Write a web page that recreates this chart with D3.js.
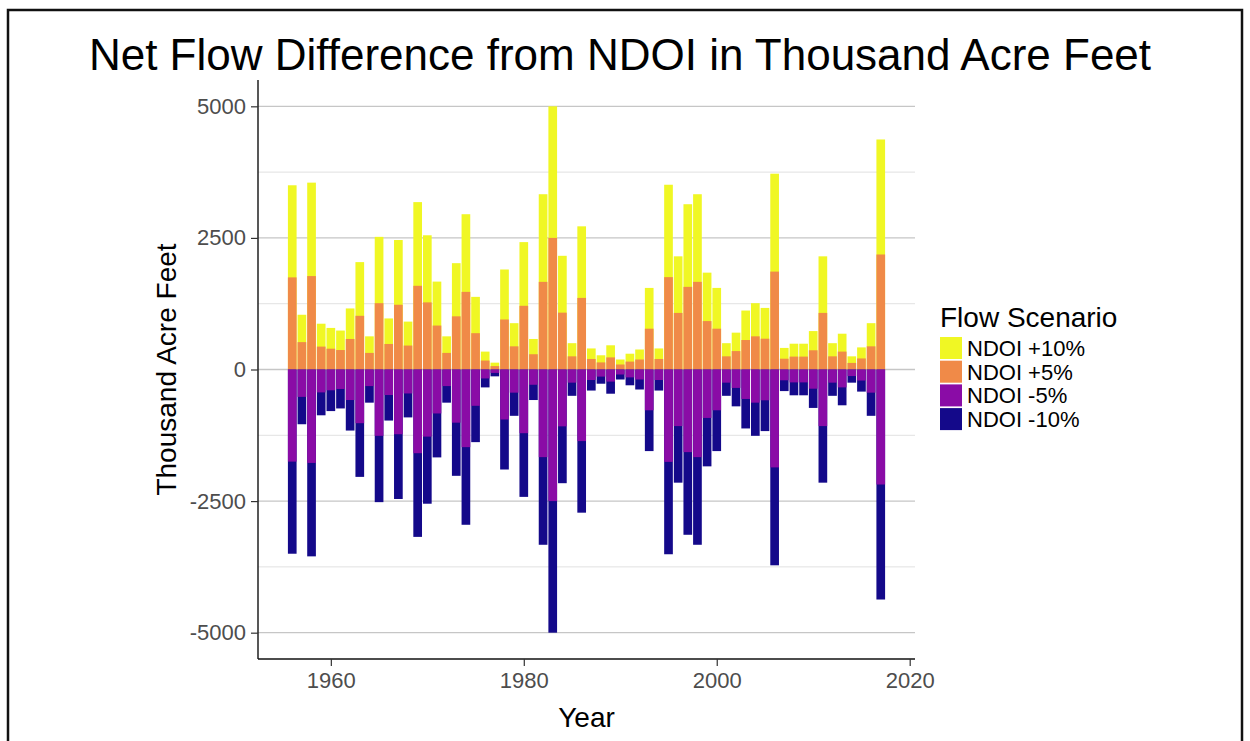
<!DOCTYPE html>
<html>
<head>
<meta charset="utf-8">
<script src="https://cdn.jsdelivr.net/npm/d3@7"></script>
<style>
  body { margin: 0; background: #fff; }
  svg { display: block; font-family: "Liberation Sans", Arial, sans-serif; }
</style>
</head>
<body>
<svg id="chart" width="1250" height="741"></svg>
<script>
// Values (thousand acre feet)
var years = d3.range(1956, 2018);

var plus10 = [3500, 1040, 3550, 870, 790, 740, 1160, 2040, 630, 2520,
  970, 2460, 910, 3180, 2550, 1670, 630, 2020, 2950, 1380,
  340, 130, 1900, 880, 2420, 580, 3330, 5000, 2160, 500,
  2720, 400, 270, 460, 190, 300, 380, 1550, 400, 3510,
  2150, 3140, 3330, 1840, 1550, 500, 700, 1120, 1260, 1170,
  3720, 410, 490, 490, 730, 2150, 500, 680, 250, 420,
  880, 4370];

var plus5 = [1750, 520, 1775, 435, 395, 370, 580, 1020, 315, 1260,
  485, 1230, 455, 1590, 1275, 835, 315, 1010, 1475, 690,
  170, 65, 950, 440, 1210, 290, 1665, 2500, 1080, 250,
  1360, 200, 135, 230, 95, 150, 190, 775, 200, 1755,
  1075, 1570, 1665, 920, 775, 250, 350, 560, 630, 585,
  1860, 205, 245, 245, 365, 1075, 250, 340, 125, 210,
  440, 2185];

var minus5 = [-1750, -520, -1775, -435, -395, -370, -580, -1020, -315, -1260,
  -485, -1230, -455, -1590, -1275, -835, -315, -1010, -1475, -690,
  -170, -65, -950, -440, -1210, -290, -1665, -2500, -1080, -250,
  -1360, -200, -135, -230, -95, -150, -190, -775, -200, -1755,
  -1075, -1570, -1665, -920, -775, -250, -350, -560, -630, -585,
  -1860, -205, -245, -245, -365, -1075, -250, -340, -125, -210,
  -440, -2185];

var minus10 = [-3500, -1040, -3550, -870, -790, -740, -1160, -2040, -630, -2520,
  -970, -2460, -910, -3180, -2550, -1670, -630, -2020, -2950, -1380,
  -340, -130, -1900, -880, -2420, -580, -3330, -5000, -2160, -500,
  -2720, -400, -270, -460, -190, -300, -380, -1550, -400, -3510,
  -2150, -3140, -3330, -1840, -1550, -500, -700, -1120, -1260, -1170,
  -3720, -410, -490, -490, -730, -2150, -500, -680, -250, -420,
  -880, -4370];

var yTicks = [-5000, -2500, 0, 2500, 5000];
var yMinor = [-3750, -1250, 1250, 3750];
var xTicks = [1960, 1980, 2000, 2020];

var scenarios = ["NDOI +10%", "NDOI +5%", "NDOI -5%", "NDOI -10%"];
var colors = ["#f0f724", "#f08a48", "#8a0ca6", "#14098a"];

var svg = d3.select("#chart");

// panel box (window.top is taken, so own names)
var panelL = 258, panelR = 915, panelT = 80, panelB = 659;

var x = d3.scaleLinear().domain([1952.45, 2020.55]).range([panelL, panelR]);
var y = d3.scaleLinear().domain([-5500, 5500]).range([panelB, panelT]);
var barW = (x(1) - x(0)) * 0.9;

// outer frame
svg.append("rect")
  .attr("x", 8).attr("y", 10).attr("width", 1234).attr("height", 745)
  .attr("fill", "none").attr("stroke", "#111").attr("stroke-width", 2.5);

// gridlines
svg.append("g").selectAll("line").data(yMinor).join("line")
  .attr("x1", panelL).attr("x2", panelR)
  .attr("y1", d => y(d)).attr("y2", d => y(d))
  .attr("stroke", "#e1e1e1").attr("stroke-width", 1);
svg.append("g").selectAll("line").data(yTicks).join("line")
  .attr("x1", panelL).attr("x2", panelR)
  .attr("y1", d => y(d)).attr("y2", d => y(d))
  .attr("stroke", "#c6c6c6").attr("stroke-width", 1.3);

// bars: bigger change drawn first, the 5% one over it
var series = [plus10, plus5, minus10, minus5];
var seriesColor = [colors[0], colors[1], colors[3], colors[2]];
series.forEach(function(vals, s) {
  svg.append("g").selectAll("rect").data(vals).join("rect")
    .attr("x", (d, i) => x(years[i]) - barW / 2)
    .attr("width", barW)
    .attr("y", d => y(Math.max(0, d)))
    .attr("height", d => Math.abs(y(d) - y(0)))
    .attr("fill", seriesColor[s]);
});

// axes (plain hyphen for negatives, as in R)
var plain = function(d) { return String(d); };
var yAxis = svg.append("g")
  .attr("transform", "translate(" + panelL + ",0)")
  .call(d3.axisLeft(y).tickValues(yTicks).tickSize(7).tickPadding(5).tickFormat(plain));
var xAxis = svg.append("g")
  .attr("transform", "translate(0," + panelB + ")")
  .call(d3.axisBottom(x).tickValues(xTicks).tickSize(7).tickPadding(6).tickFormat(plain));

[yAxis, xAxis].forEach(function(ax) {
  ax.select(".domain").attr("stroke", "#111").attr("stroke-width", 1.4);
  ax.selectAll(".tick line").attr("stroke", "#333").attr("stroke-width", 1.2);
  ax.selectAll(".tick text")
    .attr("fill", "#4d4d4d")
    .style("font-size", "22px")
    .style("font-family", "Liberation Sans, Arial, sans-serif");
});
// axis lines without the end caps, like ggplot
yAxis.select(".domain").attr("d", "M0," + panelT + "V" + panelB);
xAxis.select(".domain").attr("d", "M" + panelL + ",0H" + panelR);

// title
svg.append("text")
  .attr("x", 620).attr("y", 70)
  .attr("text-anchor", "middle")
  .style("font-size", "44px")
  .attr("fill", "#000")
  .text("Net Flow Difference from NDOI in Thousand Acre Feet");

// axis titles
svg.append("text")
  .attr("x", (panelL + panelR) / 2).attr("y", 727)
  .attr("text-anchor", "middle")
  .style("font-size", "28px")
  .text("Year");

svg.append("text")
  .attr("transform", "translate(176," + y(0) + ") rotate(-90)")
  .attr("text-anchor", "middle")
  .style("font-size", "28px")
  .text("Thousand Acre Feet");

// legend
var legend = svg.append("g").attr("transform", "translate(940,0)");
legend.append("text")
  .attr("x", 0).attr("y", 327)
  .style("font-size", "28px")
  .text("Flow Scenario");

var keys = legend.selectAll("g.key").data(scenarios).join("g")
  .attr("class", "key")
  .attr("transform", (d, i) => "translate(0," + (337 + i * 23.7) + ")");
keys.append("rect")
  .attr("width", 22).attr("height", 22)
  .attr("fill", (d, i) => colors[i]);
keys.append("text")
  .attr("x", 27).attr("y", 19)
  .style("font-size", "22px")
  .text(d => d);
</script>
</body>
</html>
